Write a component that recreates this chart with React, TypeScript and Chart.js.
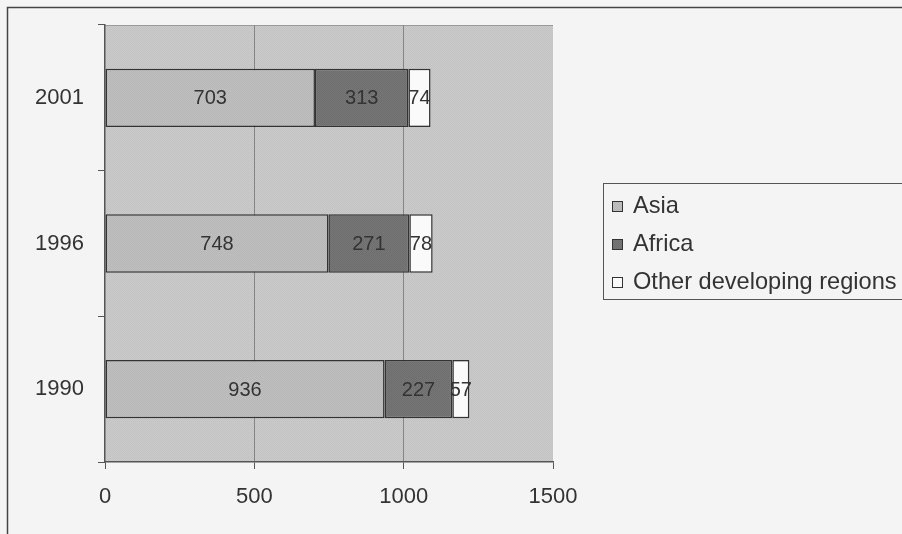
import React, { useEffect, useRef } from 'react';
import { Chart, registerables } from 'chart.js';

Chart.register(...registerables);

const categories = ['2001', '1996', '1990'];
const asia = [703, 748, 936];
const africa = [313, 271, 227];
const other = [74, 78, 57];
const seriesNames = ['Asia', 'Africa', 'Other developing regions'];
const xMin = 0;
const xMax = 1500;
const xStep = 500;

const FONT = "'Liberation Sans', Arial, sans-serif";
const TEXT = '#333333';
const COLORS = ['#bdbdbd', '#747474', '#fafafa'];
const PAGE_BG = '#f4f4f4';

function makePattern(base: string, alt: string): CanvasPattern | string {
  const c = document.createElement('canvas');
  c.width = 2;
  c.height = 2;
  const g = c.getContext('2d');
  if (!g) return base;
  g.fillStyle = base;
  g.fillRect(0, 0, 2, 2);
  g.fillStyle = alt;
  g.fillRect(0, 0, 1, 1);
  g.fillRect(1, 1, 1, 1);
  const p = g.createPattern(c, 'repeat');
  return p || base;
}

export default function App() {
  const ref = useRef<HTMLCanvasElement | null>(null);

  useEffect(() => {
    if (!ref.current) return;
    const plotPattern = makePattern('#cbcbcb', '#c2c2c2');
    const asiaPattern = makePattern('#c0c0c0', '#b6b6b6');
    const africaPattern = makePattern('#787878', '#6c6c6c');
    const fills = [asiaPattern, africaPattern, COLORS[2]];

    const backgroundPlugin = {
      id: 'bgPlugin',
      beforeDraw(chart: any) {
        const { ctx, chartArea } = chart;
        ctx.save();
        ctx.fillStyle = PAGE_BG;
        ctx.fillRect(0, 0, chart.width, chart.height);
        ctx.strokeStyle = '#444444';
        ctx.lineWidth = 1.5;
        ctx.strokeRect(7.5, 7.5, chart.width + 20, chart.height + 20);
        ctx.fillStyle = plotPattern as any;
        ctx.fillRect(chartArea.left, chartArea.top, chartArea.right - chartArea.left, chartArea.bottom - chartArea.top);
        ctx.strokeStyle = '#9a9a9a';
        ctx.lineWidth = 1;
        ctx.beginPath();
        ctx.moveTo(chartArea.left, chartArea.top + 0.5);
        ctx.lineTo(chartArea.right, chartArea.top + 0.5);
        ctx.stroke();
        ctx.restore();
      },
    };

    const labelsPlugin = {
      id: 'segLabels',
      afterDatasetsDraw(chart: any) {
        const { ctx } = chart;
        ctx.save();
        ctx.font = `20px ${FONT}`;
        ctx.fillStyle = TEXT;
        ctx.textAlign = 'center';
        ctx.textBaseline = 'middle';
        chart.data.datasets.forEach((ds: any, di: number) => {
          const meta = chart.getDatasetMeta(di);
          meta.data.forEach((el: any, i: number) => {
            const cx = (el.x + el.base) / 2;
            ctx.fillText(String(ds.data[i]), cx, el.y + 1);
          });
        });
        ctx.restore();
      },
    };

    const legendPlugin = {
      id: 'boxLegend',
      afterDraw(chart: any) {
        const { ctx } = chart;
        ctx.save();
        ctx.strokeStyle = '#555555';
        ctx.lineWidth = 1;
        ctx.strokeRect(603.5, 183.5, 400, 116);
        const ys = [205, 243, 281];
        ctx.font = `23.6px ${FONT}`;
        ctx.textBaseline = 'middle';
        ctx.textAlign = 'left';
        seriesNames.forEach((name, i) => {
          const y = ys[i];
          ctx.fillStyle = fills[i] as any;
          ctx.fillRect(612, y - 4, 11, 11);
          ctx.strokeStyle = '#333333';
          ctx.strokeRect(612.5, y - 3.5, 10, 10);
          ctx.fillStyle = TEXT;
          ctx.fillText(name, 633, y + 1);
        });
        ctx.restore();
      },
    };

    const chart = new Chart(ref.current, {
      type: 'bar',
      data: {
        labels: categories,
        datasets: [
          { label: seriesNames[0], data: asia, backgroundColor: asiaPattern as any },
          { label: seriesNames[1], data: africa, backgroundColor: africaPattern as any },
          { label: seriesNames[2], data: other, backgroundColor: COLORS[2] },
        ].map((d) => ({
          ...d,
          borderColor: '#333333',
          borderWidth: 1.5,
          borderSkipped: false,
          categoryPercentage: 1,
          barPercentage: 0.4,
        })),
      },
      options: {
        indexAxis: 'y',
        responsive: false,
        animation: false,
        events: [],
        layout: { padding: { left: 0, top: 25, right: 349, bottom: 0 } },
        plugins: {
          legend: { display: false },
          tooltip: { enabled: false },
        },
        scales: {
          x: {
            stacked: true,
            min: xMin,
            max: xMax,
            ticks: {
              stepSize: xStep,
              font: { family: FONT, size: 22 },
              color: TEXT,
              padding: 15,
              maxRotation: 0,
              callback: (v: any) => String(v),
            },
            grid: {
              color: (c: any) => (c.index === 0 || c.index === 3 ? 'rgba(0,0,0,0)' : '#858585'),
              tickColor: '#555555',
              tickLength: 7,
              lineWidth: 1,
            },
            border: { display: true, color: '#555555', width: 1.5 },
            afterFit(scale: any) {
              scale.height = 72;
            },
          },
          y: {
            stacked: true,
            ticks: {
              font: { family: FONT, size: 22 },
              color: TEXT,
              padding: 14,
            },
            grid: {
              offset: true,
              drawOnChartArea: false,
              tickColor: '#555555',
              tickLength: 7,
            },
            border: { display: true, color: '#555555', width: 1.5 },
            afterFit(scale: any) {
              scale.width = 105;
              scale.paddingTop = 0;
              scale.paddingBottom = 0;
            },
          },
        },
      },
      plugins: [backgroundPlugin, labelsPlugin, legendPlugin],
    } as any);

    return () => chart.destroy();
  }, []);

  return (
    <div style={{ position: 'absolute', left: 0, top: 0, width: 902, height: 534 }}>
      <canvas ref={ref} width={902} height={534} style={{ display: 'block' }} />
    </div>
  );
}
